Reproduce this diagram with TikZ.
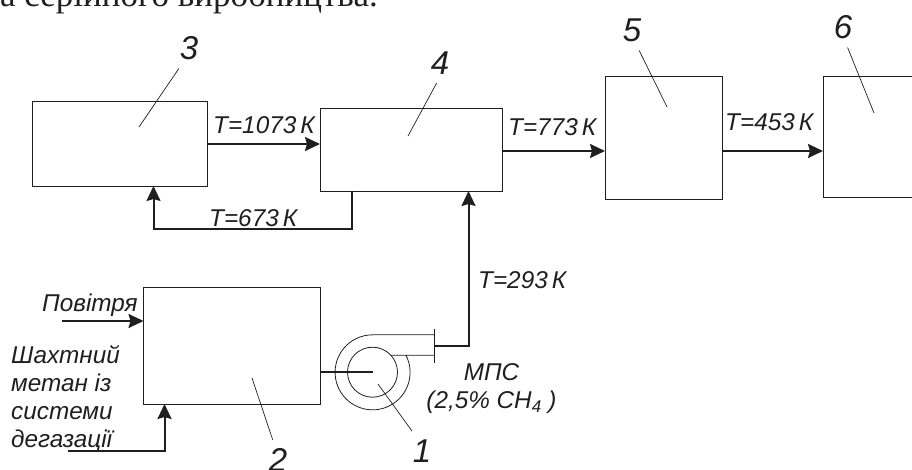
\documentclass[tikz,border=0pt]{standalone}
\usepackage{fontspec}
\setmainfont{Liberation Serif}
\setsansfont{Liberation Sans}
\usetikzlibrary{arrows.meta, positioning}

\begin{document}
\begin{tikzpicture}[x=1pt, y=-1pt, black!88,
  box/.style={draw, line width=0.9pt, inner sep=0pt, outer sep=0pt},
  lbl/.style={font=\sffamily\itshape\fontsize{24.3}{28}\selectfont, inner sep=0pt, anchor=base west},
  num/.style={font=\sffamily\itshape\fontsize{33}{36}\selectfont, inner sep=8pt, anchor=base},
  arr/.style={-{Stealth[length=15pt, width=14pt, inset=2pt]}, line width=2pt},
  pipe/.style={line width=2pt},
  lead/.style={line width=0.7pt},
  thin line/.style={line width=0.8pt}]
\path[use as bounding box, clip] (0,0) rectangle (912,470);
\node[font=\fontsize{35}{38}\selectfont, inner sep=0pt, anchor=base west] (head) at (0,7) {а серійного виробництва.};
% boxes
\node[box, minimum width=175pt, minimum height=85pt] (box3) at (119.5,143.5) {};
\node[box, minimum width=182pt, minimum height=83pt] (box4) at (411,149.5) {};
\node[box, minimum width=117pt, minimum height=123.5pt] (box5) at (663.5,138.2) {};
\node[box, minimum width=137pt, minimum height=121.5pt] (box6) at (891.5,137.2) {};
\node[box, minimum width=176.5pt, minimum height=117pt] (box2) at (231.75,345.5) {};
% fan
\node[circle, draw, thin line, minimum size=50pt, inner sep=0pt] (fan) at (372.5,372.2) {};
\coordinate (flange) at (434,346);
\draw[thin line] (390.8,355.3) -- (flange |- 0,355.3) (406,355.3) arc[start angle=-27, end angle=270, radius=37.5] -- (flange |- 0,334.7);
\draw[thin line] (flange |- 0,329.3) -- (flange |- 0,362.7);
% flows
\coordinate (a34) at (207,144);
\coordinate (a45) at (502,151);
\coordinate (a56) at (722,151);
\coordinate (a46) at (352,229.5);
\coordinate (a43) at (153.5,229.5);
\coordinate (air) at (62,321);
\coordinate (gas) at (68,450.7);
\draw[arr] (box3.east |- a34) -- (box4.west |- a34);
\draw[arr] (box4.east |- a45) -- (box5.west |- a45);
\draw[arr] (box5.east |- a56) -- (box6.west |- a56);
\draw[arr] (box4.south -| a46) -- (a46) -- (a43) -- (box3.south -| a43);
\draw[arr] (flange) -| (box4.south -| 468.5,0);
\draw[arr] (air) -- (box2.west |- air);
\draw[arr] (gas) -| (box2.south -| 164.5,0);
\draw[pipe] (box2.east |- fan) -- (fan.center);
% labels
\node[lbl] (t1073) at (213,134) {T=1073\,К};
\node[lbl] (t673) at (209,226.5) {T=673\,К};
\node[lbl] (t773) at (508,136) {T=773\,К};
\node[lbl] (t453) at (725,131) {T=453\,К};
\node[lbl] (t293) at (478,288) {T=293\,К};
\node[lbl] (air label) at (42,311) {Повітря};
\node[lbl, anchor=north west, align=left] (gas label) at (11,345) {Шахтний\\метан із\\системи\\дегазації};
\node[lbl, anchor=north, align=center] (mix label) at (491.5,363.5) {МПС\\(2,5\% CH\textsubscript{4} )};
% numbers
\node[num] (n1) at (422,462) {1};
\node[num] (n2) at (278,471) {2};
\node[num] (n3) at (189,60) {3};
\node[num] (n4) at (440,75) {4};
\node[num] (n5) at (632,42) {5};
\node[num] (n6) at (843,39) {6};
\coordinate (p1) at (378,384);
\coordinate (p2) at (252,378);
\coordinate (p3) at (139,127);
\coordinate (p4) at (408,136);
\coordinate (p5) at (667,107);
\coordinate (p6) at (874,113);
\draw[lead] (n1.117) -- (p1);
\draw[lead] (n2.105) -- (p2);
\draw[lead] (n3.243) -- (p3);
\draw[lead] (n4.260) -- (p4);
\draw[lead] (n5.-70) -- (p5);
\draw[lead] (n6.-77) -- (p6);
\end{tikzpicture}
\end{document}
